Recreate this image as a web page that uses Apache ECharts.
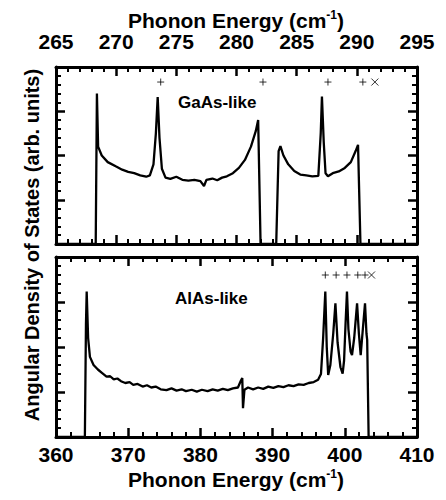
<!DOCTYPE html>
<html>
<head>
<meta charset="utf-8">
<script src="https://cdn.jsdelivr.net/npm/echarts@6/dist/echarts.min.js"></script>
<style>
  html, body { margin: 0; padding: 0; background: #fff; }
  #chart { width: 446px; height: 500px; }
</style>
</head>
<body>
<div id="chart"></div>
<script>
// GaAs-like band (top panel), energies in cm-1
var gaasEnergy = [265, 268.3, 268.4, 268.5, 268.8, 269.3, 270, 270.5, 271, 271.5, 272, 272.5, 272.8, 273.1, 273.3, 273.45, 273.6, 273.8, 274.1, 274.5, 275, 275.5, 276, 276.5, 277, 277.3, 277.5, 278, 278.4, 278.8, 279.2, 279.7, 280.2, 280.7, 281.2, 281.6, 281.8, 282.0, 283.3, 283.5, 283.65, 283.9, 284.3, 284.8, 285.3, 285.8, 286.3, 286.8, 287.0, 287.1, 287.25, 287.4, 287.6, 288, 288.5, 289, 289.5, 289.9, 290.1, 290.3, 295];
var gaasDos    = [0, 0, 3.4, 2.2, 2.0, 1.85, 1.75, 1.68, 1.63, 1.6, 1.55, 1.52, 1.55, 1.8, 2.5, 3.32, 2.4, 1.7, 1.5, 1.47, 1.52, 1.45, 1.43, 1.45, 1.42, 1.31, 1.45, 1.48, 1.44, 1.5, 1.53, 1.6, 1.72, 1.9, 2.2, 2.55, 2.8, 0, 0, 2.1, 2.21, 2.0, 1.8, 1.65, 1.57, 1.55, 1.53, 1.54, 2.5, 3.33, 2.3, 1.6, 1.53, 1.6, 1.64, 1.72, 1.85, 2.1, 2.24, 0, 0];
var gaasPlus  = [273.7, 282.2, 287.6, 290.5];
var gaasCross = [291.5];
var gaasMarkLevel = 3.66;

// AlAs-like band (bottom panel)
var alasEnergy = [360, 364.0, 364.15, 364.25, 364.45, 364.7, 365.2, 365.8, 366.4, 367, 367.5, 368, 368.5, 369, 369.6, 370.2, 370.7, 371.3, 372, 372.6, 373.2, 373.8, 374.5, 375.3, 376, 376.7, 377.4, 378, 378.8, 379.5, 380.2, 381, 381.7, 382.4, 383.1, 383.8, 384.5, 385.2, 385.6, 385.8, 385.9, 386.1, 386.6, 387.3, 388, 388.7, 389.4, 390.1, 390.8, 391.5, 392.2, 392.9, 393.6, 394.3, 395, 395.7, 396.3, 396.7, 397.0, 397.3, 397.5, 397.7, 398.0, 398.4, 398.7, 399.0, 399.4, 399.7, 399.9, 400.1, 400.3, 400.5, 400.8, 401.0, 401.3, 401.7, 401.95, 402.2, 402.5, 402.8, 403.0, 403.1, 403.3, 410];
var alasDos    = [0, 0, 2.5, 3.23, 2.2, 1.78, 1.6, 1.5, 1.42, 1.34, 1.35, 1.28, 1.3, 1.24, 1.2, 1.22, 1.16, 1.18, 1.12, 1.15, 1.1, 1.12, 1.06, 1.04, 1.08, 1.03, 1.06, 1.02, 1.05, 1.01, 1.05, 1.02, 1.06, 1.03, 1.07, 1.04, 1.08, 1.1, 1.25, 1.31, 0.64, 1.05, 1.1, 1.06, 1.1, 1.07, 1.12, 1.09, 1.13, 1.11, 1.15, 1.13, 1.17, 1.16, 1.2, 1.22, 1.27, 1.4, 2.2, 3.23, 2.0, 1.38, 1.6, 2.3, 2.97, 2.1, 1.55, 1.41, 1.7, 2.5, 3.23, 2.4, 1.9, 1.82, 2.2, 2.97, 2.3, 1.82, 2.4, 2.97, 2.3, 2.16, 0, 0];
var alasPlus  = [397.3, 398.8, 400.3, 401.8, 402.8];
var alasCross = [403.7];
var alasMarkLevel = 3.6;

var topTicks = [265, 295, 5];
var bottomTicks = [360, 410, 10];
var dosTicks = [0, 4, 1];

function pairs(xs, ys) {
  var out = [];
  for (var i = 0; i < xs.length; i++) out.push([xs[i], ys[i]]);
  return out;
}
function level(xs, v) {
  return xs.map(function (x) { return [x, v]; });
}

var font = '"Liberation Sans", Arial, sans-serif';

function ax(grid, pos, range, showLabel, margin) {
  return {
    type: 'value', gridIndex: grid, position: pos,
    min: range[0], max: range[1], interval: range[2],
    axisLine: { show: true, onZero: false, lineStyle: { color: '#000', width: 3 } },
    axisTick: { show: true, inside: true, length: 9, lineStyle: { color: '#000', width: 2.5 } },
    minorTick: { show: true, splitNumber: 5, length: 5, lineStyle: { color: '#000', width: 2 } },
    splitLine: { show: false },
    axisLabel: { show: showLabel, margin: margin, color: '#000', fontFamily: font, fontWeight: 'bold', fontSize: 21 }
  };
}

var plusPath = 'path://M0,4L8,4M4,0L4,8';
var crossPath = 'path://M0,0L8,8M8,0L0,8';

function marks(data, xi, yi, path) {
  return {
    type: 'scatter', xAxisIndex: xi, yAxisIndex: yi, data: data,
    symbol: path, symbolSize: 7, silent: true,
    itemStyle: { color: 'none', borderColor: '#000', borderWidth: 1 }
  };
}

var titleRich = {
  t: { font: 'bold 21px ' + font, fill: '#000' },
  sup: { font: 'bold 12px ' + font, fill: '#000', padding: [0, 0, 10, 0] }
};

// svg renderer: ticks are drawn one by one, no canvas batching
var chart = echarts.init(document.getElementById('chart'), null, { renderer: 'svg' });
chart.setOption({
  animation: false,
  backgroundColor: '#fff',
  grid: [
    { left: 56, top: 67, width: 361, height: 177 },
    { left: 56, top: 257, width: 361, height: 180 }
  ],
  xAxis: [
    ax(0, 'top', topTicks, true, 15),
    ax(0, 'bottom', topTicks, false, 8),
    ax(1, 'bottom', bottomTicks, true, 7),
    ax(1, 'top', bottomTicks, false, 8)
  ],
  yAxis: [ax(0, 'left', dosTicks, false, 8), ax(0, 'right', dosTicks, false, 8),
          ax(1, 'left', dosTicks, false, 8), ax(1, 'right', dosTicks, false, 8)],
  graphic: [
    { type: 'text', x: 236, y: 20,
      style: { text: '{t|Phonon Energy (cm}{sup|-1}{t|)}', rich: titleRich, align: 'center', verticalAlign: 'middle' } },
    { type: 'text', x: 236, y: 479,
      style: { text: '{t|Phonon Energy (cm}{sup|-1}{t|)}', rich: titleRich, align: 'center', verticalAlign: 'middle' } },
    { type: 'text', x: 178, y: 102,
      style: { text: 'GaAs-like', font: 'bold 17px ' + font, fill: '#000', verticalAlign: 'middle' } },
    { type: 'text', x: 175, y: 298,
      style: { text: 'AlAs-like', font: 'bold 17px ' + font, fill: '#000', verticalAlign: 'middle' } },
    { type: 'text', x: 32, y: 245, rotation: Math.PI / 2,
      style: { text: 'Angular Density of States (arb. units)', font: 'bold 20px ' + font, fill: '#000', align: 'center', verticalAlign: 'middle' } }
  ],
  series: [
    { type: 'line', xAxisIndex: 0, yAxisIndex: 0, data: pairs(gaasEnergy, gaasDos), showSymbol: false,
      lineStyle: { color: '#000', width: 2.3 } },
    { type: 'line', xAxisIndex: 2, yAxisIndex: 2, data: pairs(alasEnergy, alasDos), showSymbol: false,
      lineStyle: { color: '#000', width: 2.3 } },
    marks(level(gaasPlus, gaasMarkLevel), 0, 0, plusPath),
    marks(level(gaasCross, gaasMarkLevel), 0, 0, crossPath),
    marks(level(alasPlus, alasMarkLevel), 2, 2, plusPath),
    marks(level(alasCross, alasMarkLevel), 2, 2, crossPath)
  ]
});
</script>
</body>
</html>
